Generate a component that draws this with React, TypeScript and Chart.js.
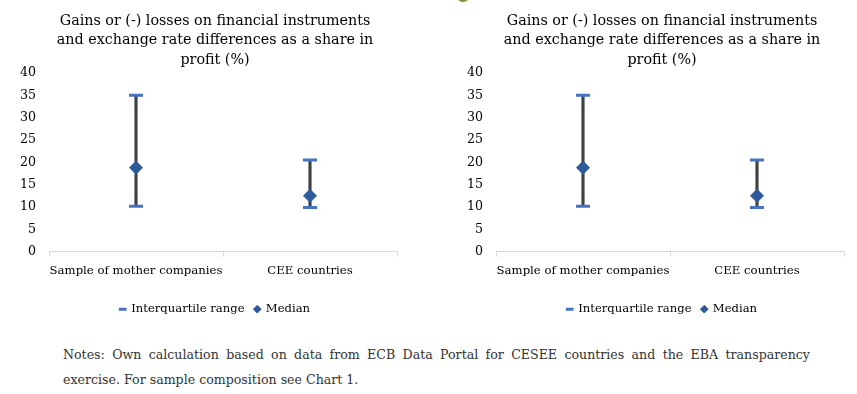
import React, { useEffect, useRef } from 'react';
import { Chart, registerables } from 'chart.js';

Chart.register(...registerables);

const titleLines = [
  'Gains or (-) losses on financial instruments',
  'and exchange rate differences as a share in',
  'profit (%)',
];
const categories = ['Sample of mother companies', 'CEE countries'];
const iqrLow = [10.2, 9.9];
const iqrHigh = [35, 20.5];
const median = [18.8, 12.5];
const yTicks = [0, 5, 10, 15, 20, 25, 30, 35, 40];
const legendIqr = 'Interquartile range';
const legendMedian = 'Median';
const notesLine1 =
  'Notes: Own calculation based on data from ECB Data Portal for CESEE countries and the EBA transparency';
const notesLine2 = 'exercise. For sample composition see Chart 1.';

const SERIF = "'DejaVu Serif', serif";
const CAP_BLUE = '#4472C4';
const DIAMOND_BLUE = '#2E5A9C';
const RANGE_GREY = '#404040';
const AXIS_GREY = '#D9D9D9';

function ErrorChart() {
  const ref = useRef<HTMLCanvasElement | null>(null);
  useEffect(() => {
    if (!ref.current) return;
    const ranges = iqrLow.map((lo, i) => [lo, iqrHigh[i]]);
    const chart = new Chart(ref.current, {
      type: 'bar',
      data: {
        labels: categories,
        datasets: [
          {
            type: 'line',
            label: legendMedian,
            data: median,
            showLine: false,
            pointStyle: 'rectRot',
            pointRadius: 6.5,
            pointBorderWidth: 1,
            pointBackgroundColor: DIAMOND_BLUE,
            pointBorderColor: DIAMOND_BLUE,
            backgroundColor: DIAMOND_BLUE,
            borderColor: DIAMOND_BLUE,
            order: 0,
          } as any,
          {
            type: 'line',
            label: legendIqr,
            data: iqrHigh,
            showLine: false,
            pointStyle: 'line',
            pointRadius: 7,
            pointBorderWidth: 3,
            pointBorderColor: CAP_BLUE,
            pointBackgroundColor: CAP_BLUE,
            backgroundColor: CAP_BLUE,
            borderColor: CAP_BLUE,
            order: 1,
          } as any,
          {
            type: 'line',
            label: 'low',
            data: iqrLow,
            showLine: false,
            pointStyle: 'line',
            pointRadius: 7,
            pointBorderWidth: 3,
            pointBorderColor: CAP_BLUE,
            pointBackgroundColor: CAP_BLUE,
            backgroundColor: CAP_BLUE,
            borderColor: CAP_BLUE,
            order: 1,
          } as any,
          {
            type: 'bar',
            label: 'range',
            data: ranges as any,
            backgroundColor: RANGE_GREY,
            borderWidth: 0,
            barThickness: 2.5,
            order: 3,
          } as any,
        ],
      },
      options: {
        animation: false,
        responsive: false,
        maintainAspectRatio: false,
        layout: { padding: 0 },
        plugins: {
          tooltip: { enabled: false },
          title: {
            display: true,
            text: titleLines,
            color: '#000',
            font: { family: SERIF, size: 14.3, weight: 'normal', lineHeight: '19.5px' } as any,
            padding: { top: 11.5, bottom: 3 },
          },
          legend: {
            display: true,
            position: 'bottom',
            labels: {
              usePointStyle: true,
              boxWidth: 5.5,
              boxHeight: 5.5,
              padding: 10,
              color: '#000',
              font: { family: SERIF, size: 11.6 },
              filter: (item: any) => item.datasetIndex === 0 || item.datasetIndex === 1,
              sort: (a: any, b: any) => (a.datasetIndex === 1 ? 0 : 1) - (b.datasetIndex === 1 ? 0 : 1),
            },
          },
        },
        scales: {
          x: {
            type: 'category',
            offset: true,
            grid: {
              display: true,
              drawOnChartArea: false,
              offset: true,
              tickLength: 5,
              color: AXIS_GREY,
            },
            border: { display: true, color: AXIS_GREY, width: 1 },
            ticks: {
              color: '#000',
              font: { family: SERIF, size: 11.7 },
              padding: 7.5,
              maxRotation: 0,
              autoSkip: false,
            },
            afterFit: (s: any) => {
              s.height = 41.7;
            },
          },
          y: {
            type: 'linear',
            min: yTicks[0],
            max: yTicks[yTicks.length - 1],
            grid: { display: false, drawTicks: false },
            border: { display: false },
            afterBuildTicks: (s: any) => {
              s.ticks = yTicks.map((v) => ({ value: v }));
            },
            ticks: {
              color: '#000',
              font: { family: SERIF, size: 12.6 },
              padding: 13,
            },
            afterFit: (s: any) => {
              s.width = 49;
            },
          },
          ySpacer: {
            type: 'linear',
            position: 'right',
            display: true,
            grid: { display: false, drawTicks: false },
            border: { display: false },
            ticks: { display: false },
            afterFit: (s: any) => {
              s.width = 33;
            },
          },
        },
      },
    });
    return () => chart.destroy();
  }, []);
  return <canvas ref={ref} width={430} height={325} style={{ width: 430, height: 325, display: 'block' }} />;
}

export default function App() {
  const noteStyle: React.CSSProperties = {
    fontFamily: SERIF,
    fontSize: 12.6,
    lineHeight: '25px',
    color: '#333',
    whiteSpace: 'nowrap',
  };
  return (
    <div
      style={{
        position: 'absolute',
        left: 0,
        top: 0,
        width: 857,
        height: 394,
        overflow: 'hidden',
        background: '#fff',
      }}
    >
      <div
        style={{
          position: 'absolute',
          left: 458,
          top: -4,
          width: 10,
          height: 6,
          borderRadius: '50%',
          background: '#7F9A3A',
        }}
      />
      <div style={{ position: 'absolute', left: 0, top: 0 }}>
        <ErrorChart />
      </div>
      <div style={{ position: 'absolute', left: 447, top: 0 }}>
        <ErrorChart />
      </div>
      <div style={{ position: 'absolute', left: 63, top: 342, width: 747 }}>
        <div style={{ ...noteStyle, whiteSpace: 'normal', textAlign: 'justify', textAlignLast: 'justify' }}>
          {notesLine1}
        </div>
        <div style={noteStyle}>{notesLine2}</div>
      </div>
    </div>
  );
}
